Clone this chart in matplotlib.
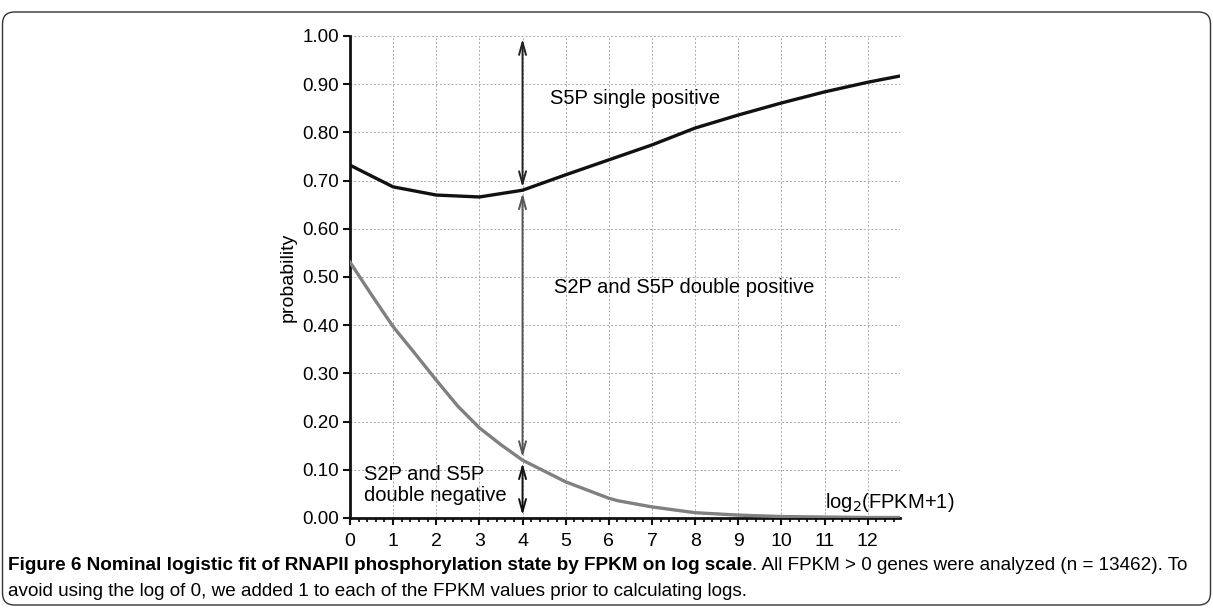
import matplotlib
matplotlib.use("Agg")
import matplotlib.pyplot as plt
from matplotlib.patches import FancyBboxPatch
from matplotlib.ticker import MultipleLocator

plt.rcParams['font.family'] = ['Liberation Sans', 'DejaVu Sans']

# values
s5p_x = [0, 1, 2, 3, 4, 5, 6, 7, 8, 9, 10, 11, 12, 12.75]
s5p_curve = [0.732, 0.687, 0.670, 0.666, 0.680, 0.712, 0.743, 0.774, 0.809,
             0.836, 0.861, 0.884, 0.904, 0.917]
neg_x = [0, 0.5, 1, 1.5, 2, 2.5, 3, 3.5, 4, 5, 6, 6.2, 7, 8, 9, 10, 11, 12, 12.75]
neg_curve = [0.531, 0.463, 0.397, 0.342, 0.286, 0.232, 0.187, 0.152, 0.120,
             0.075, 0.041, 0.036, 0.023, 0.011, 0.006, 0.003, 0.002, 0.001, 0.001]
split_x = 4
split_top = 0.680
split_bottom = 0.120

fig = plt.figure(figsize=(12.13, 6.12), dpi=100)
ax = fig.add_axes([0.2885, 0.1536, 0.4535, 0.7876])

ax.plot(s5p_x, s5p_curve, color='#111111', lw=2.4, zorder=3)
ax.plot(neg_x, neg_curve, color='#808080', lw=2.4, zorder=3)

arrow_kw = dict(arrowstyle='<->,head_length=0.9,head_width=0.25', lw=1.4)
ax.annotate('', xy=(split_x, 1.0), xytext=(split_x, split_top),
            arrowprops=dict(color='#222222', **arrow_kw))
ax.annotate('', xy=(split_x, split_top), xytext=(split_x, split_bottom),
            arrowprops=dict(color='#555555', **arrow_kw))
ax.annotate('', xy=(split_x, split_bottom), xytext=(split_x, 0.0),
            arrowprops=dict(color='#111111', **arrow_kw))

ax.text(4.63, 0.871, 'S5P single positive', fontsize=14.5, va='center')
ax.text(4.74, 0.479, 'S2P and S5P double positive', fontsize=14.5, va='center')
ax.text(0.33, 0.068, 'S2P and S5P\ndouble negative', fontsize=14.5,
        va='center', linespacing=1.1)
ax.text(11.0, 0.033, r'log$_2$(FPKM+1)', fontsize=14.5, va='center')

ax.set_xlim(0, 12.75)
ax.set_ylim(0, 1.0)
ax.xaxis.set_major_locator(MultipleLocator(1))
ax.xaxis.set_minor_locator(MultipleLocator(0.2))
ax.yaxis.set_major_locator(MultipleLocator(0.1))
ax.set_yticklabels([f'{v:.2f}' for v in ax.get_yticks()])
ax.tick_params(axis='both', which='major', labelsize=13.5, width=1.5,
               length=5, direction='out', color='#111111', pad=3)
ax.tick_params(axis='x', which='major', labelsize=14, pad=6)
ax.tick_params(axis='x', which='minor', width=1.2, length=3)
ax.set_ylabel('probability', fontsize=14, labelpad=4)

for side in ['top', 'right']:
    ax.spines[side].set_visible(False)
for side in ['left', 'bottom']:
    ax.spines[side].set_linewidth(2)
    ax.spines[side].set_color('#111111')

ax.grid(True, which='major', color='#aaaaaa', lw=0.7, ls=(0, (2, 2)))

# frame round the figure
frame = FancyBboxPatch((0.025, 0.07), 12.08, 5.93,
                       boxstyle='round,pad=0,rounding_size=0.12',
                       transform=fig.dpi_scale_trans, fill=False,
                       ec='#333333', lw=1.0)
fig.patches.append(frame)

cap_font = ['Liberation Sans', 'DejaVu Sans']
bold = fig.text(8 / 1213, 1 - 565 / 612, 'Figure 6 Nominal logistic fit of RNAPII '
                'phosphorylation state by FPKM on log scale', fontsize=13.6,
                fontweight='bold', family=cap_font, va='center')
fig.canvas.draw()
bb = bold.get_window_extent()
fig.text(bb.x1 / fig.bbox.width, 1 - 565 / 612,
         '. All FPKM > 0 genes were analyzed (n = 13462). To', fontsize=13.6,
         family=cap_font, va='center')
fig.text(8 / 1213, 1 - 591 / 612,
         'avoid using the log of 0, we added 1 to each of the FPKM values prior '
         'to calculating logs.', fontsize=13.6, family=cap_font, va='center')

fig.savefig('out.png', dpi=100)
